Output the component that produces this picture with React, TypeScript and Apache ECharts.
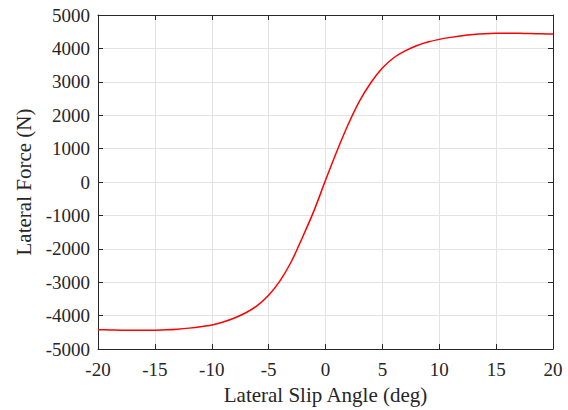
import React, { useEffect, useRef } from "react";
import * as echarts from "echarts";

const slipAngles = [-20, -19, -18, -17, -16, -15, -14, -13, -12, -11, -10, -9, -8, -7, -6, -5, -4, -3, -2, -1, 0, 1, 2, 3, 4, 5, 6, 7, 8, 9, 10, 11, 12, 13, 14, 15, 16, 17, 18, 19, 20];
const lateralForce = [-4420, -4428, -4435, -4440, -4440, -4435, -4425, -4405, -4375, -4335, -4280, -4190, -4070, -3915, -3700, -3390, -2960, -2380, -1640, -850, 50, 920, 1730, 2430, 2980, 3410, 3720, 3925, 4080, 4190, 4270, 4330, 4380, 4415, 4438, 4450, 4452, 4450, 4445, 4438, 4430];

const xTicks = { min: -20, max: 20, interval: 5 };
const yTicks = { min: -5000, max: 5000, interval: 1000 };

const FONT = "Liberation Serif";
const AXIS_COLOR = "#262626";

export default function App() {
  const ref = useRef<HTMLDivElement>(null);
  useEffect(() => {
    if (!ref.current) return;
    const chart = echarts.init(ref.current, undefined, { renderer: "svg" });
    const data = slipAngles.map((x, i) => [x, lateralForce[i]]);
    const axisLine = { show: true, onZero: false, lineStyle: { color: AXIS_COLOR, width: 1 } };
    const tick = { show: true, inside: true, length: 5, lineStyle: { color: AXIS_COLOR } };
    const fmt = (v: number) => String(v);
    const labelStyle = { fontFamily: FONT, fontSize: 19, color: AXIS_COLOR, fontWeight: "normal" as const };
    chart.setOption({
      animation: false,
      backgroundColor: "#ffffff",
      textStyle: { fontFamily: FONT },
      grid: { left: 98, right: 15, top: 15, bottom: 55, containLabel: false },
      xAxis: [
        {
          type: "value",
          min: xTicks.min,
          max: xTicks.max,
          interval: xTicks.interval,
          position: "bottom",
          name: "Lateral Slip Angle (deg)",
          nameLocation: "middle",
          nameGap: 35,
          nameTextStyle: { fontFamily: FONT, fontSize: 21, color: AXIS_COLOR },
          axisLine,
          axisTick: tick,
          axisLabel: { ...labelStyle, margin: 11, formatter: fmt },
          splitLine: { show: true, lineStyle: { color: "#e3e3e3", width: 1 } },
        },
        {
          type: "value",
          min: xTicks.min,
          max: xTicks.max,
          interval: xTicks.interval,
          position: "top",
          axisLine,
          axisTick: tick,
          axisLabel: { show: false },
          splitLine: { show: false },
        },
      ],
      yAxis: [
        {
          type: "value",
          min: yTicks.min,
          max: yTicks.max,
          interval: yTicks.interval,
          position: "left",
          name: "Lateral Force (N)",
          nameLocation: "middle",
          nameGap: 60,
          nameTextStyle: { fontFamily: FONT, fontSize: 21, color: AXIS_COLOR },
          axisLine,
          axisTick: tick,
          axisLabel: { ...labelStyle, margin: 8, formatter: fmt },
          splitLine: { show: true, lineStyle: { color: "#e3e3e3", width: 1 } },
        },
        {
          type: "value",
          min: yTicks.min,
          max: yTicks.max,
          interval: yTicks.interval,
          position: "right",
          axisLine,
          axisTick: tick,
          axisLabel: { show: false },
          splitLine: { show: false },
        },
      ],
      series: [
        {
          type: "line",
          data,
          xAxisIndex: 0,
          yAxisIndex: 0,
          smooth: 0.3,
          symbol: "none",
          lineStyle: { color: "#ff0000", width: 1.5 },
        },
      ],
    });
    return () => chart.dispose();
  }, []);
  return <div ref={ref} style={{ width: 568, height: 410, position: "absolute", left: 0, top: 0 }} />;
}
